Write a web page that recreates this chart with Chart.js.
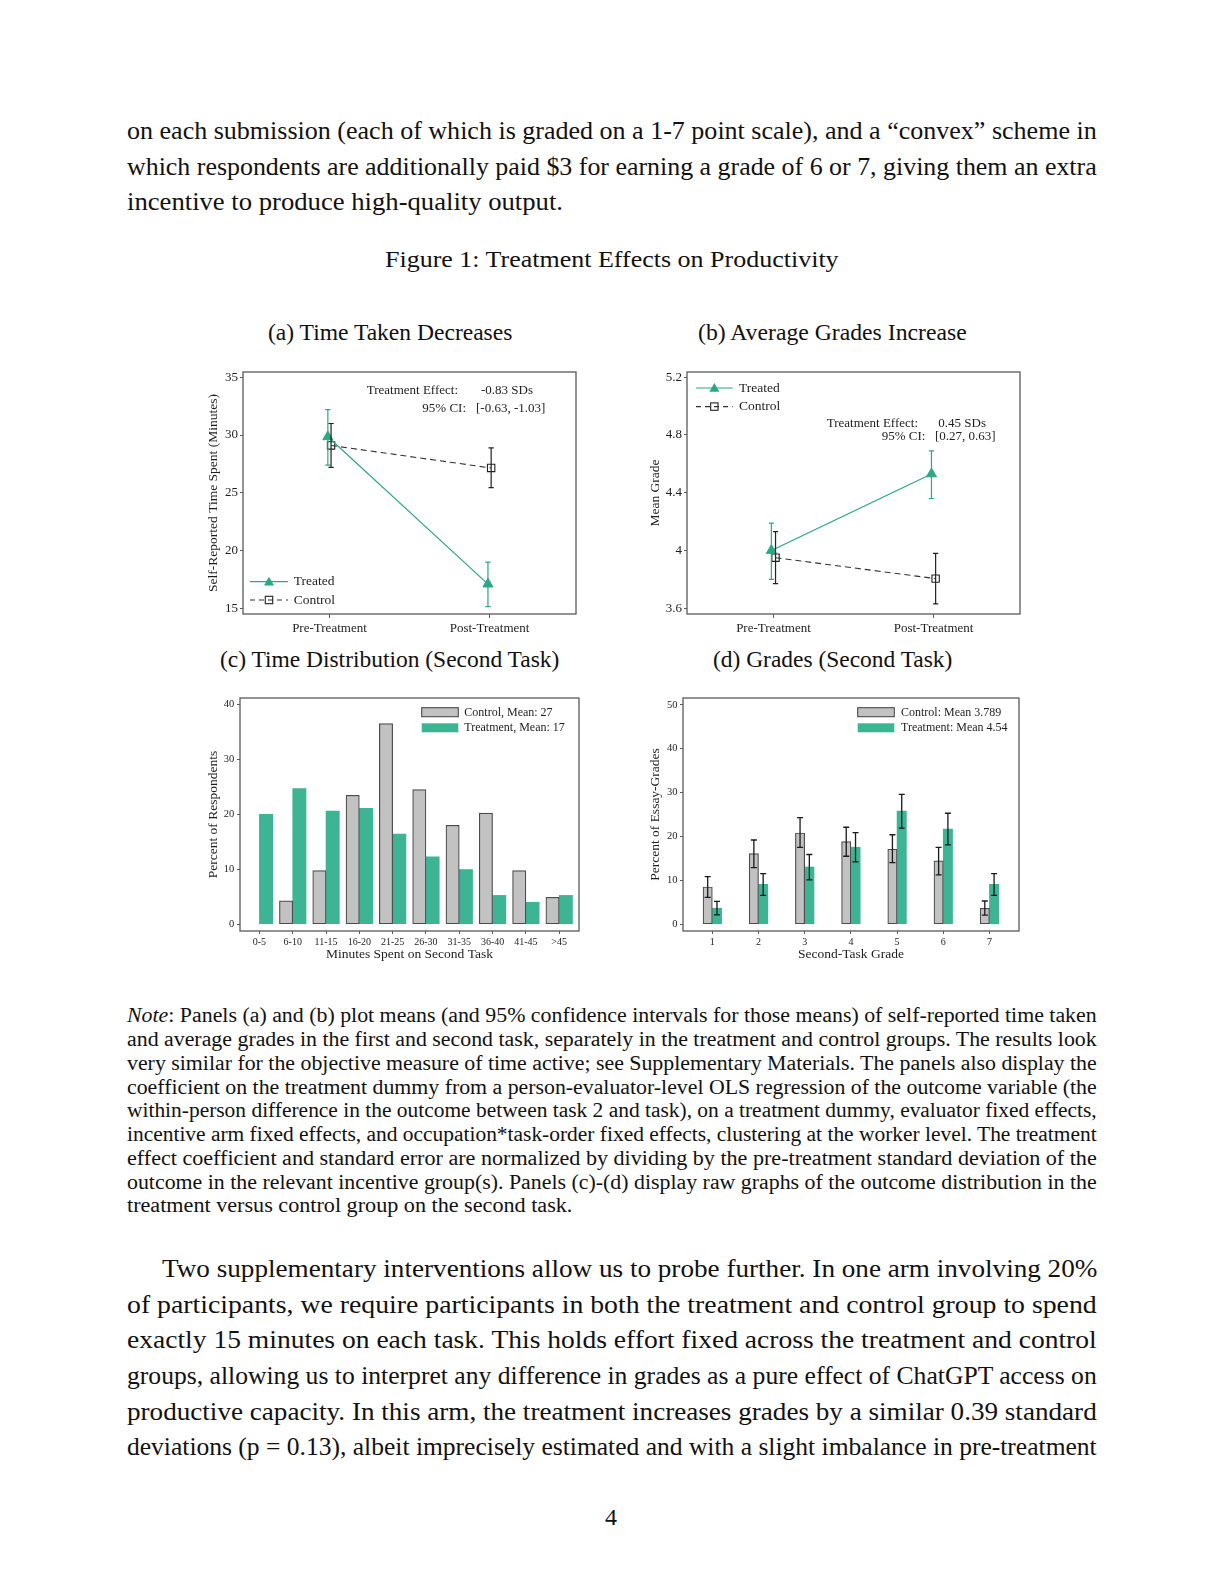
<!DOCTYPE html>
<html><head><meta charset="utf-8">
<script src="https://cdn.jsdelivr.net/npm/chart.js@4.4.1/dist/chart.umd.min.js"></script>
<style>
html,body{margin:0;padding:0;background:#fff;}
body{width:1224px;height:1584px;position:relative;overflow:hidden;font-family:'Liberation Serif','Times New Roman',serif;color:#111;}
.t{position:absolute;white-space:nowrap;line-height:1;transform-origin:0 0;}
.cv{position:absolute;}
</style></head><body>

<div class="t" style="left:127.3px;top:118.2px;font-size:25px" data-w="969.7">on each submission (each of which is graded on a 1-7 point scale), and a “convex” scheme in</div>
<div class="t" style="left:127.3px;top:153.8px;font-size:25px" data-w="969.7">which respondents are additionally paid $3 for earning a grade of 6 or 7, giving them an extra</div>
<div class="t" style="left:127.3px;top:189.4px;font-size:25px" data-w="436">incentive to produce high-quality output.</div>

<div class="t" style="left:384.8px;top:247.3px;font-size:24px" data-w="453.6">Figure 1: Treatment Effects on Productivity</div>

<div class="t" style="left:267.7px;top:321.2px;font-size:23px" data-w="244.4">(a) Time Taken Decreases</div>
<div class="t" style="left:698px;top:321.2px;font-size:23px" data-w="268.7">(b) Average Grades Increase</div>
<div class="t" style="left:220.2px;top:647.5px;font-size:23px" data-w="339.4">(c) Time Distribution (Second Task)</div>
<div class="t" style="left:713px;top:647.5px;font-size:23px" data-w="239.4">(d) Grades (Second Task)</div>

<canvas id="ca" class="cv" width="401" height="294" style="left:195px;top:360px;width:401px;height:294px"></canvas>
<canvas id="cb" class="cv" width="401" height="294" style="left:639px;top:360px;width:401px;height:294px"></canvas>
<canvas id="cc" class="cv" width="405" height="285" style="left:192px;top:686px;width:405px;height:285px"></canvas>
<canvas id="cd" class="cv" width="404" height="285" style="left:635px;top:686px;width:404px;height:285px"></canvas>

<div class="t" style="left:127.3px;top:1005.4px;font-size:20.5px" data-w="969.7"><i>Note</i>: Panels (a) and (b) plot means (and 95% confidence intervals for those means) of self-reported time taken</div>
<div class="t" style="left:127.3px;top:1029.15px;font-size:20.5px" data-w="969.7">and average grades in the first and second task, separately in the treatment and control groups. The results look</div>
<div class="t" style="left:127.3px;top:1052.9px;font-size:20.5px" data-w="969.7">very similar for the objective measure of time active; see Supplementary Materials. The panels also display the</div>
<div class="t" style="left:127.3px;top:1076.65px;font-size:20.5px" data-w="969.7">coefficient on the treatment dummy from a person-evaluator-level OLS regression of the outcome variable (the</div>
<div class="t" style="left:127.3px;top:1100.4px;font-size:20.5px" data-w="969.7">within-person difference in the outcome between task 2 and task), on a treatment dummy, evaluator fixed effects,</div>
<div class="t" style="left:127.3px;top:1124.15px;font-size:20.5px" data-w="969.7">incentive arm fixed effects, and occupation*task-order fixed effects, clustering at the worker level. The treatment</div>
<div class="t" style="left:127.3px;top:1147.9px;font-size:20.5px" data-w="969.7">effect coefficient and standard error are normalized by dividing by the pre-treatment standard deviation of the</div>
<div class="t" style="left:127.3px;top:1171.65px;font-size:20.5px" data-w="969.7">outcome in the relevant incentive group(s). Panels (c)-(d) display raw graphs of the outcome distribution in the</div>
<div class="t" style="left:127.3px;top:1195.4px;font-size:20.5px" data-w="445.4">treatment versus control group on the second task.</div>

<div class="t" style="left:161.6px;top:1256.3px;font-size:25px" data-w="935.4">Two supplementary interventions allow us to probe further. In one arm involving 20%</div>
<div class="t" style="left:127.3px;top:1291.85px;font-size:25px" data-w="969.7">of participants, we require participants in both the treatment and control group to spend</div>
<div class="t" style="left:127.3px;top:1327.4px;font-size:25px" data-w="969.7">exactly 15 minutes on each task. This holds effort fixed across the treatment and control</div>
<div class="t" style="left:127.3px;top:1362.95px;font-size:25px" data-w="969.7">groups, allowing us to interpret any difference in grades as a pure effect of ChatGPT access on</div>
<div class="t" style="left:127.3px;top:1398.5px;font-size:25px" data-w="969.7">productive capacity. In this arm, the treatment increases grades by a similar 0.39 standard</div>
<div class="t" style="left:127.3px;top:1434.05px;font-size:25px" data-w="969.7">deviations (p = 0.13), albeit imprecisely estimated and with a slight imbalance in pre-treatment</div>

<div class="t" style="left:605px;top:1504.8px;font-size:24px">4</div>

<script>
// ---------------- DATA ----------------
const phaseLabels = ['Pre-Treatment', 'Post-Treatment'];
const seriesNames = ['Treated', 'Control'];

const timeTreated   = [29.85, 17.1];
const timeTreatedLo = [27.4, 15.15];
const timeTreatedHi = [32.2, 19.0];
const timeControl   = [29.1, 27.15];
const timeControlLo = [27.2, 25.45];
const timeControlHi = [31.0, 28.9];
const timeTicks = [15, 20, 25, 30, 35];
const timeEffect = ['Treatment Effect:', '-0.83 SDs', '95% CI:', '[-0.63, -1.03]'];

const gradeTreated   = [4.0, 4.53];
const gradeTreatedLo = [3.80, 4.36];
const gradeTreatedHi = [4.19, 4.69];
const gradeControl   = [3.95, 3.805];
const gradeControlLo = [3.77, 3.63];
const gradeControlHi = [4.13, 3.98];
const gradeTicks = [3.6, 4, 4.4, 4.8, 5.2];
const gradeEffect = ['Treatment Effect:', '0.45 SDs', '95% CI:', '[0.27, 0.63]'];

const minuteBins = ['0-5', '6-10', '11-15', '16-20', '21-25', '26-30', '31-35', '36-40', '41-45', '>45'];
const minutesControl   = [null, 4.25, 9.75, 23.45, 36.5, 24.5, 18.0, 20.2, 9.75, 4.9];
const minutesTreatment = [20.0, 24.65, 20.6, 21.1, 16.4, 12.25, 9.95, 5.25, 4.0, 5.25];
const minuteNames = ['Control, Mean: 27', 'Treatment, Mean: 17'];
const pctTicksC = [0, 10, 20, 30, 40];

const gradeLevels = [1, 2, 3, 4, 5, 6, 7];
const gradesControl     = [8.5, 16.1, 20.8, 18.85, 17.1, 14.45, 3.65];
const gradesControlLo   = [6.15, 12.9, 17.5, 15.5, 14.05, 11.25, 2.1];
const gradesControlHi   = [10.85, 19.2, 24.3, 22.1, 20.4, 17.5, 5.3];
const gradesTreatment   = [3.65, 9.1, 13.05, 17.55, 25.8, 21.7, 9.1];
const gradesTreatmentLo = [2.15, 6.6, 10.1, 14.2, 21.9, 18.1, 6.6];
const gradesTreatmentHi = [5.2, 11.55, 15.9, 20.9, 29.6, 25.3, 11.55];
const gradeNames = ['Control: Mean 3.789', 'Treatment: Mean 4.54'];
const pctTicksD = [0, 10, 20, 30, 40, 50];

// ---------------- TEXT FIT ----------------
document.querySelectorAll('.t[data-w]').forEach(el => {
  const w = el.getBoundingClientRect().width;
  el.style.transform = 'scaleX(' + (parseFloat(el.dataset.w) / w) + ')';
});

// ---------------- STYLE ----------------
const FONT = "'Liberation Serif', 'Times New Roman', serif";
Chart.defaults.font.family = FONT;
Chart.defaults.color = '#1e1e1e';
Chart.defaults.animation = false;
const GREEN_LINE = '#2AA886', GREEN_BAR = '#3DB594', GREY_BAR = '#C2C2C2', GREY_EDGE = '#4d4d4d', BOX = '#5a5a5a', TXT = '#1e1e1e';

const boxPlugin = { id: 'boxp', afterDraw(chart) {
  const a = chart.chartArea, c = chart.ctx;
  c.save(); c.strokeStyle = BOX; c.lineWidth = 1.3;
  c.strokeRect(a.left, a.top, a.right - a.left, a.bottom - a.top); c.restore();
}};

function errPlugin(sets) {
  return { id: 'errp', afterDatasetsDraw(chart) {
    const ys = chart.scales.y, c = chart.ctx;
    sets.forEach(s => {
      const meta = chart.getDatasetMeta(s.ds);
      meta.data.forEach((el, i) => {
        if (s.lo[i] == null) return;
        const x = el.x, y1 = ys.getPixelForValue(s.lo[i]), y2 = ys.getPixelForValue(s.hi[i]);
        c.save(); c.strokeStyle = s.color; c.lineWidth = s.width; c.setLineDash([]);
        c.beginPath();
        c.moveTo(x, y1); c.lineTo(x, y2);
        c.moveTo(x - s.cap, y1); c.lineTo(x + s.cap, y1);
        c.moveTo(x - s.cap, y2); c.lineTo(x + s.cap, y2);
        c.stroke(); c.restore();
      });
    });
  }};
}

function tri(c, x, y, r, col) {
  c.beginPath();
  c.moveTo(x, y - r); c.lineTo(x + 0.866 * r, y + 0.5 * r); c.lineTo(x - 0.866 * r, y + 0.5 * r); c.closePath();
  c.fillStyle = col; c.fill();
}

function lineLegendPlugin(spec) {
  return { id: 'llegend', afterDraw(chart) {
    const a = chart.chartArea, c = chart.ctx;
    const yT = spec.fromBottom ? a.bottom - spec.y1 : a.top + spec.y1;
    const yC = spec.fromBottom ? a.bottom - spec.y2 : a.top + spec.y2;
    const x0 = a.left + spec.x0, x1 = a.left + spec.x1, xm = (x0 + x1) / 2;
    c.save();
    c.strokeStyle = GREEN_LINE; c.lineWidth = 1.2;
    c.beginPath(); c.moveTo(x0, yT); c.lineTo(x1, yT); c.stroke();
    tri(c, xm, yT + 0.8, 5.8, GREEN_LINE);
    c.strokeStyle = '#333'; c.lineWidth = 1.1; c.setLineDash([5, 4]);
    c.beginPath(); c.moveTo(x0, yC); c.lineTo(x1, yC); c.stroke();
    c.setLineDash([]); c.strokeStyle = '#222';
    c.strokeRect(xm - 3.7, yC - 3.7, 7.4, 7.4);
    c.fillStyle = TXT; c.font = '13.5px ' + FONT; c.textBaseline = 'middle'; c.textAlign = 'left';
    c.fillText(chart.data.datasets[0].label, a.left + spec.tx, yT);
    c.fillText(chart.data.datasets[1].label, a.left + spec.tx, yC);
    c.restore();
  }};
}

function effectPlugin(texts, pos) {
  return { id: 'effp', afterDraw(chart) {
    const a = chart.chartArea, c = chart.ctx;
    c.save(); c.fillStyle = TXT; c.font = '13px ' + FONT; c.textBaseline = 'middle'; c.textAlign = 'left';
    texts.forEach((t, i) => c.fillText(t, a.left + pos[i][0], a.top + pos[i][1]));
    c.restore();
  }};
}

function barLegendPlugin(spec) {
  return { id: 'blegend', afterDraw(chart) {
    const a = chart.chartArea, c = chart.ctx;
    const ds = chart.data.datasets;
    c.save();
    const bx = a.left + spec.bx, bw = spec.bw;
    c.fillStyle = GREY_BAR; c.fillRect(bx, a.top + 9.7, bw, 9);
    c.strokeStyle = GREY_EDGE; c.lineWidth = 1.1; c.strokeRect(bx, a.top + 9.7, bw, 9);
    c.fillStyle = GREEN_BAR; c.fillRect(bx, a.top + 25.3, bw, 9);
    c.fillStyle = TXT; c.font = '12px ' + FONT; c.textBaseline = 'middle'; c.textAlign = 'left';
    c.fillText(ds[0].label, a.left + spec.tx, a.top + 15.3);
    c.fillText(ds[1].label, a.left + spec.tx, a.top + 30.3);
    c.restore();
  }};
}

function fixedTicks(arr) { return s => { s.ticks = arr.map(v => ({ value: v })); }; }

function yAxis(min, max, ticks, title, titlePad, fontSize, fmt, tl, pad, wid) {
  return {
    type: 'linear', min: min, max: max,
    afterBuildTicks: fixedTicks(ticks),
    afterFit: s => { s.width = wid; },
    ticks: { font: { size: fontSize }, padding: pad, color: TXT, callback: fmt },
    grid: { drawOnChartArea: false, drawTicks: true, tickLength: tl, color: BOX, lineWidth: 1, offset: false },
    border: { display: false },
    title: { display: true, text: title, font: { size: 13.5 }, color: TXT, padding: { top: titlePad, bottom: 0 } }
  };
}

function xAxis(min, max, vals, labels, fontSize, tl, pad, title, titlePadBottom) {
  const ax = {
    type: 'linear', min: min, max: max, offset: false,
    afterBuildTicks: fixedTicks(vals),
    afterFit: s => { s.height = 40; },
    ticks: { font: { size: fontSize }, padding: pad, color: TXT, autoSkip: false, maxRotation: 0, minRotation: 0,
      callback: v => { const i = vals.indexOf(v); return i >= 0 ? labels[i] : ''; } },
    grid: { drawOnChartArea: false, drawTicks: true, tickLength: tl, color: BOX, lineWidth: 1, offset: false },
    border: { display: false }
  };
  if (title) ax.title = { display: true, text: title, font: { size: 13.5 }, color: TXT, padding: { top: 0, bottom: titlePadBottom } };
  return ax;
}

const baseOpts = (layoutRight) => ({
  responsive: false, animation: false,
  layout: { padding: { top: 12, right: layoutRight, left: 0, bottom: 0 }, autoPadding: false },
  plugins: { legend: { display: false }, tooltip: { enabled: false } }
});

function lineDatasets(tr, co, dodge) {
  return [
    { label: seriesNames[0], data: tr.map((v, i) => ({ x: i - dodge, y: v })),
      borderColor: GREEN_LINE, borderWidth: 1.2, pointStyle: 'triangle', pointRadius: 5.8,
      pointBackgroundColor: GREEN_LINE, pointBorderColor: GREEN_LINE, pointBorderWidth: 1, tension: 0 },
    { label: seriesNames[1], data: co.map((v, i) => ({ x: i + dodge, y: v })),
      borderColor: '#333', borderDash: [6, 4], borderWidth: 1.1, pointStyle: 'rect', pointRadius: 5.2,
      pointBackgroundColor: 'rgba(0,0,0,0)', pointBorderColor: '#222', pointBorderWidth: 1.1, tension: 0 }
  ];
}

const phaseIdx = phaseLabels.map((_, i) => i);

// ---------------- (a) ----------------
new Chart(document.getElementById('ca'), {
  type: 'line',
  data: { datasets: lineDatasets(timeTreated, timeControl, 0.01) },
  options: Object.assign(baseOpts(20), {
    scales: {
      x: xAxis(-0.54, 1.54, phaseIdx, phaseLabels, 13, 4, 3.2, null, 0),
      y: yAxis(14.51, 35.46, timeTicks, 'Self-Reported Time Spent (Minutes)', 9.9, 13, v => String(v), 3, 2, 48)
    }
  }),
  plugins: [boxPlugin,
    errPlugin([{ ds: 0, lo: timeTreatedLo, hi: timeTreatedHi, color: GREEN_LINE, width: 1.2, cap: 2.6 },
               { ds: 1, lo: timeControlLo, hi: timeControlHi, color: '#222', width: 1.2, cap: 2.6 }]),
    lineLegendPlugin({ fromBottom: true, y1: 32.3, y2: 14, x0: 7, x1: 45, tx: 50.7 }),
    effectPlugin(timeEffect, [[123.7, 18.7], [238, 18.7], [179.3, 37], [233, 37]])]
});

// ---------------- (b) ----------------
new Chart(document.getElementById('cb'), {
  type: 'line',
  data: { datasets: lineDatasets(gradeTreated, gradeControl, 0.013) },
  options: Object.assign(baseOpts(20), {
    scales: {
      x: xAxis(-0.54, 1.54, phaseIdx, phaseLabels, 13, 4, 3.2, null, 0),
      y: yAxis(3.56, 5.236, gradeTicks, 'Mean Grade', 7.9, 13, v => String(Math.round(v * 10) / 10), 3, 2, 48)
    }
  }),
  plugins: [boxPlugin,
    errPlugin([{ ds: 0, lo: gradeTreatedLo, hi: gradeTreatedHi, color: GREEN_LINE, width: 1.2, cap: 2.6 },
               { ds: 1, lo: gradeControlLo, hi: gradeControlHi, color: '#222', width: 1.2, cap: 2.6 }]),
    lineLegendPlugin({ fromBottom: false, y1: 16, y2: 34.6, x0: 9, x1: 45.7, tx: 52 }),
    effectPlugin(gradeEffect, [[139.7, 51.3], [251.3, 51.3], [194.7, 64.7], [248, 64.7]])]
});

// ---------------- (c) ----------------
const binIdx = minuteBins.map((_, i) => i);
new Chart(document.getElementById('cc'), {
  type: 'bar',
  data: { datasets: [
    { label: minuteNames[0], data: minutesControl.map((v, i) => ({ x: i, y: v })),
      backgroundColor: GREY_BAR, borderColor: GREY_EDGE, borderWidth: 1.2, borderSkipped: false, barThickness: 13.3 },
    { label: minuteNames[1], data: minutesTreatment.map((v, i) => ({ x: i, y: v })),
      backgroundColor: GREEN_BAR, borderColor: GREEN_BAR, borderWidth: 0, barThickness: 13.3 }
  ]},
  options: Object.assign(baseOpts(18), {
    scales: {
      x: xAxis(-0.583, 9.595, binIdx, minuteBins, 10, 3, 2.4, 'Minutes Spent on Second Task', 8.6),
      y: yAxis(-1.22, 41.14, pctTicksC, 'Percent of Respondents', 13.2, 10.5, v => String(v), 3, 2.7, 48)
    }
  }),
  plugins: [boxPlugin, barLegendPlugin({ bx: 181.7, bw: 36.6, tx: 224.3 })]
});

// ---------------- (d) ----------------
new Chart(document.getElementById('cd'), {
  type: 'bar',
  data: { datasets: [
    { label: gradeNames[0], data: gradesControl.map((v, i) => ({ x: gradeLevels[i], y: v })),
      backgroundColor: GREY_BAR, borderColor: GREY_EDGE, borderWidth: 1.2, borderSkipped: false, barThickness: 9.3 },
    { label: gradeNames[1], data: gradesTreatment.map((v, i) => ({ x: gradeLevels[i], y: v })),
      backgroundColor: GREEN_BAR, borderColor: GREEN_BAR, borderWidth: 0, barThickness: 9.3 }
  ]},
  options: Object.assign(baseOpts(20), {
    scales: {
      x: xAxis(0.365, 7.64, gradeLevels, gradeLevels.map(String), 10, 3, 2.4, 'Second-Task Grade', 8.6),
      y: yAxis(-1.53, 51.55, pctTicksD, 'Percent of Essay-Grades', 11.9, 10.5, v => String(v), 3, 2.4, 48)
    }
  }),
  plugins: [boxPlugin,
    errPlugin([{ ds: 0, lo: gradesControlLo, hi: gradesControlHi, color: '#1a1a1a', width: 1.3, cap: 3 },
               { ds: 1, lo: gradesTreatmentLo, hi: gradesTreatmentHi, color: '#1a1a1a', width: 1.3, cap: 3 }]),
    barLegendPlugin({ bx: 174.7, bw: 36.6, tx: 218 })]
});
</script>
</body></html>
